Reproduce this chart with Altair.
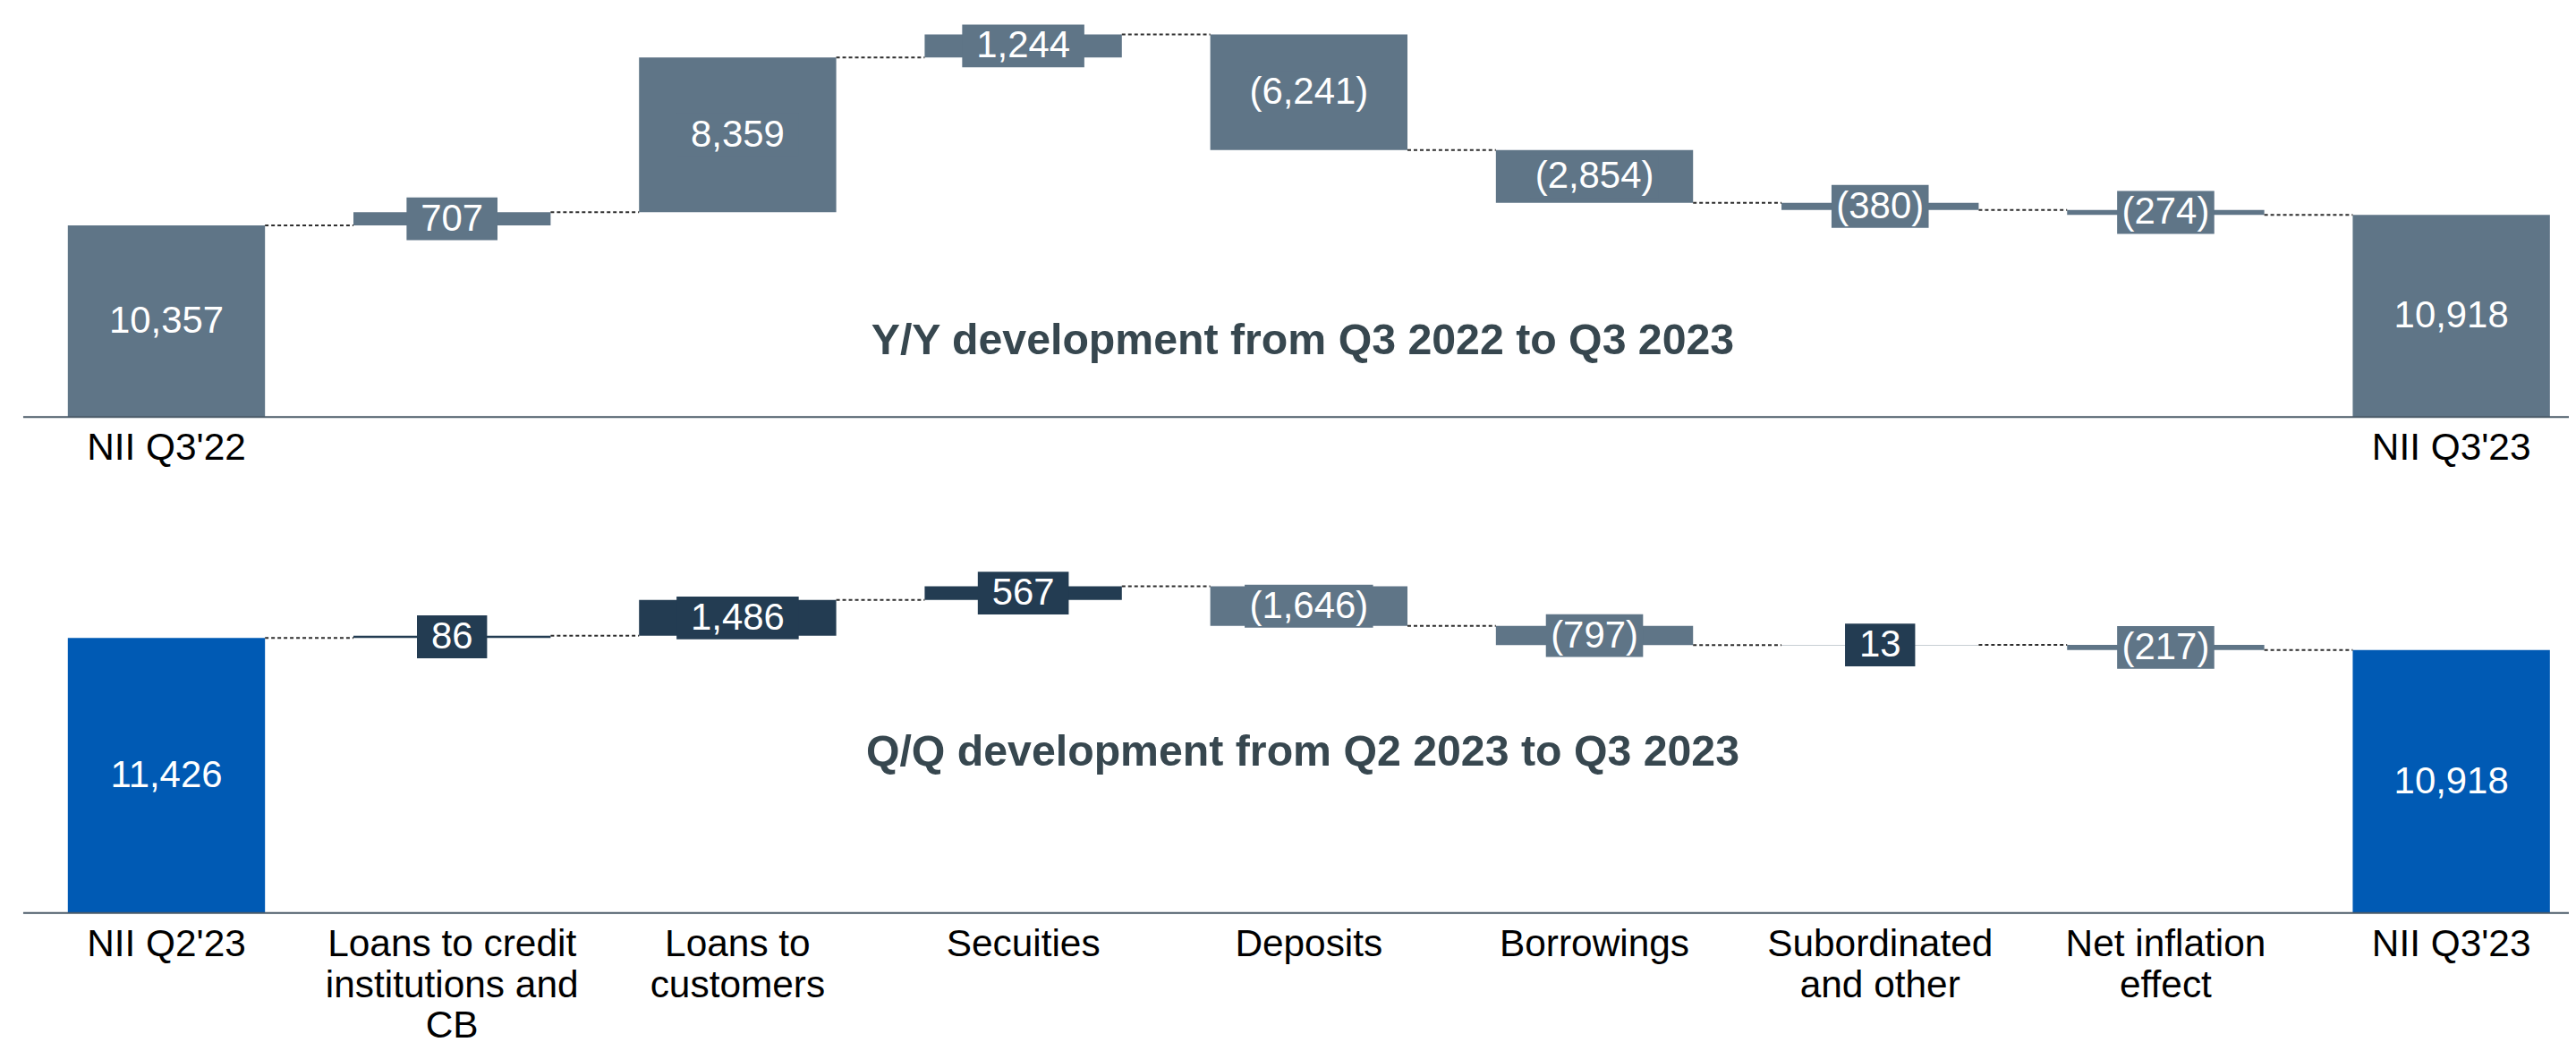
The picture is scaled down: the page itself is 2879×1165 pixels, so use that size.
import altair as alt
import pandas as pd

# ---------------- data ----------------
categories = ["NII Q2'23", "Loans to credit\ninstitutions and\nCB", "Loans to\ncustomers",
              "Secuities", "Deposits", "Borrowings", "Subordinated\nand other",
              "Net inflation\neffect", "NII Q3'23"]
yy_first_label = "NII Q3'22"
yy_values = [10357, 707, 8359, 1244, -6241, -2854, -380, -274, 10918]
qq_values = [11426, 86, 1486, 567, -1646, -797, 13, -217, 10918]
is_total = [True, False, False, False, False, False, False, False, True]
yy_title = "Y/Y development from Q3 2022 to Q3 2023"
qq_title = "Q/Q development from Q2 2023 to Q3 2023"

# ---------------- style / layout ----------------
FONT = "Liberation Sans"
GREY = "#5f7587"
NAVY = "#233c52"
BLUE = "#005ab4"
TITLE_COLOR = "#37474f"
AXIS_COLOR = "#4a5a67"
W = 2871          # plot width (page x 8 .. 2879)
H = 1157          # plot height (page y 8 .. 1165)
BAR_PX = 221
HALF_BAR = BAR_PX / 2
X_DOMAIN = [-0.5576, 8.4115]
xscale = alt.Scale(domain=X_DOMAIN, nice=False, zero=False, padding=0)


def fmt(v):
    s = f"{abs(v):,}"
    return f"({s})" if v < 0 else s


def box_width(v):
    s = f"{abs(v):,}"
    digits = sum(c.isdigit() for c in s)
    commas = s.count(",")
    base = digits * 23.3 + commas * 11.7
    return base + (39 if v < 0 else 32)


def build(values, labels, shown, colors, px_per_unit, base_px, title, title_y, label_y):
    ymax = base_px / px_per_unit
    ymin = ymax - H / px_per_unit
    yscale = alt.Scale(domain=[ymin, ymax], nice=False, zero=False, padding=0)

    rows = []
    run = 0
    for i, (v, tot) in enumerate(zip(values, is_total)):
        if tot:
            start, end = 0, v
            run = v
        else:
            start, end = run, run + v
            run = end
        rows.append(dict(idx=i, start=start, end=end, mid=(start + end) / 2,
                         label=fmt(v), color=colors[i], bw=box_width(v),
                         total=tot, level=run, cat=labels[i], show=shown[i]))
    df = pd.DataFrame(rows)
    conn = pd.DataFrame([dict(i=r["idx"], i1=r["idx"] + 1, level=r["level"])
                         for r in rows[:-1]])
    deltas = df[~df["total"]]
    cats = df[df["show"]]

    X = alt.X("idx:Q", scale=xscale, axis=None)

    bars = alt.Chart(df).mark_bar(size=BAR_PX, orient="vertical").encode(
        x=X,
        y=alt.Y("start:Q", scale=yscale, axis=None),
        y2="end:Q",
        color=alt.Color("color:N", scale=None),
    )
    boxes = alt.Chart(deltas).mark_bar(orient="vertical", yOffset=-24, y2Offset=24).encode(
        x=X,
        y=alt.Y("mid:Q", scale=yscale, axis=None),
        y2="mid:Q",
        size=alt.Size("bw:Q", scale=None),
        color=alt.Color("color:N", scale=None),
    )
    connectors = alt.Chart(conn).mark_rule(
        strokeDash=[4, 3], strokeWidth=2, color="#2e2e2e",
        xOffset=HALF_BAR, x2Offset=-HALF_BAR,
    ).encode(
        x=alt.X("i:Q", scale=xscale, axis=None),
        x2="i1:Q",
        y=alt.Y("level:Q", scale=yscale, axis=None),
    )
    axis_line = alt.Chart(pd.DataFrame({"z": [0]})).mark_rule(
        color=AXIS_COLOR, strokeWidth=2
    ).encode(
        x=alt.value(18), x2=alt.value(W),
        y=alt.Y("z:Q", scale=yscale, axis=None),
    )
    values_txt = alt.Chart(df).mark_text(
        color="white", fontSize=42, font=FONT, baseline="middle", align="center"
    ).encode(
        x=X,
        y=alt.Y("mid:Q", scale=yscale, axis=None),
        text="label:N",
    )
    cat_txt = alt.Chart(cats).mark_text(
        color="black", fontSize=42.5, font=FONT, baseline="alphabetic", align="center",
        lineBreak="\n", lineHeight=46,
    ).encode(
        x=X,
        y=alt.value(label_y),
        text="cat:N",
    )
    title_txt = alt.Chart(pd.DataFrame({"t": [title]})).mark_text(
        color=TITLE_COLOR, fontSize=48.4, fontWeight="bold", font=FONT,
        baseline="alphabetic", align="center",
    ).encode(
        x=alt.value(1452),
        y=alt.value(title_y),
        text="t:N",
    )
    return [bars, boxes, connectors, axis_line, values_txt, cat_txt, title_txt]


yy_labels = [yy_first_label] + categories[1:]
yy_shown = [True] + [False] * 7 + [True]
yy_colors = [GREY] * 9

qq_shown = [True] * 9
qq_colors = [BLUE if t else (NAVY if v > 0 else GREY) for v, t in zip(qq_values, is_total)]

# page y positions (minus the 8px page margin)
top_layers = build(yy_values, yy_labels, yy_shown, yy_colors, 0.02076, 466 - 8,
                   yy_title, 395 - 8, 514 - 8)
bottom_layers = build(qq_values, categories, qq_shown, qq_colors, 0.027, 1022 - 8,
                      qq_title, 857 - 8, 1070 - 8)

chart = alt.layer(*top_layers, *bottom_layers).resolve_scale(
    y="independent"
).properties(
    width=W, height=H, padding=0, background="white",
    autosize=alt.AutoSizeParams(type="none"),
).configure_view(stroke=None)

chart.save("out.html", embed_options={"renderer": "svg", "actions": False})
